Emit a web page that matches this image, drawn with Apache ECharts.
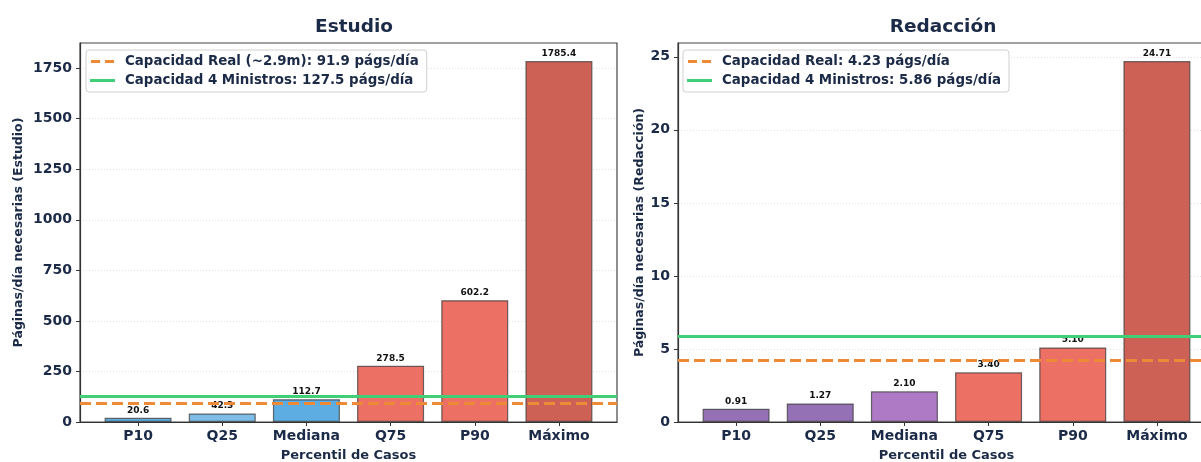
<!DOCTYPE html>
<html>
<head>
<meta charset="utf-8">
<script src="https://cdn.jsdelivr.net/npm/echarts@6/dist/echarts.min.js"></script>
<style>
html,body{margin:0;padding:0;background:#fff;}
#chart{width:1201px;height:462px;}
</style>
</head>
<body>
<div id="chart"></div>
<script>
const categories = ['P10', 'Q25', 'Mediana', 'Q75', 'P90', 'Máximo'];
const estudioValues = [20.6, 42.3, 112.7, 278.5, 602.2, 1785.4];
const redaccionValues = [0.91, 1.27, 2.10, 3.40, 5.10, 24.71];
const estudioColors = ['#5dade2', '#7dbde8', '#5dade2', '#ec7063', '#ec7063', '#cd6155'];
const redaccionColors = ['#9470b4', '#9470b4', '#af7ac5', '#ec7063', '#ec7063', '#cd6155'];
const estudioCapacity = { real: 91.9, ministros: 127.5 };
const redaccionCapacity = { real: 4.23, ministros: 5.86 };
const estudioTicks = [0, 250, 500, 750, 1000, 1250, 1500, 1750];
const redaccionTicks = [0, 5, 10, 15, 20, 25];
const legendEstudio = ['Capacidad Real (~2.9m): 91.9 págs/día', 'Capacidad 4 Ministros: 127.5 págs/día'];
const legendRedaccion = ['Capacidad Real: 4.23 págs/día', 'Capacidad 4 Ministros: 5.86 págs/día'];

const FONT = 'DejaVu Sans';
const TXT = '#1b2a47';
const ORANGE = '#ec8a35';
const GREEN = '#40cf77';
const DASH_ICON = 'path://M0,0 H9 V3 H0 Z M14,0 H23 V3 H14 Z';
const SOLID_ICON = 'path://M0,0 H25 V3 H0 Z';
const xIdx = categories.map((c, i) => i);

function xAxis(gi) {
  return {
    type: 'value', gridIndex: gi, min: -0.69, max: 5.69,
    name: 'Percentil de Casos', nameLocation: 'middle', nameGap: 27,
    nameTextStyle: { fontFamily: FONT, fontWeight: 'bold', fontSize: 13, color: TXT },
    axisLine: { show: true, onZero: false, lineStyle: { color: '#333', width: 1.2 } },
    axisTick: { show: true, customValues: xIdx, length: 4, lineStyle: { color: '#333' } },
    axisLabel: { customValues: xIdx, formatter: v => categories[Math.round(v)], fontFamily: FONT, fontWeight: 'bold', fontSize: 14, color: TXT, margin: 7 },
    splitLine: { show: false }
  };
}
function yAxis(gi, max, ticks, name, gap) {
  return {
    type: 'value', gridIndex: gi, min: 0, max: max,
    name: name, nameLocation: 'middle', nameGap: gap,
    nameTextStyle: { fontFamily: FONT, fontWeight: 'bold', fontSize: 12.5, color: TXT },
    axisLine: { show: true, onZero: false, lineStyle: { color: '#333', width: 1.2 } },
    axisTick: { show: true, customValues: ticks, length: 4, lineStyle: { color: '#333' } },
    axisLabel: { customValues: ticks, formatter: v => String(v), fontFamily: FONT, fontWeight: 'bold', fontSize: 14, color: TXT, margin: 8 },
    splitLine: { show: true, customValues: ticks, lineStyle: { color: '#d9d9d9', type: [1, 2], width: 0.8 } }
  };
}
function bars(gi, values, colors, decimals) {
  return {
    type: 'bar', xAxisIndex: gi, yAxisIndex: gi, barWidth: 67, z: 2,
    data: values.map((v, i) => ({ value: [i, v], itemStyle: { color: colors[i] } })),
    itemStyle: { borderColor: 'rgba(60,60,60,0.75)', borderWidth: 1.2 },
    label: { show: true, position: 'top', distance: 3, fontFamily: FONT, fontWeight: 'bold', fontSize: 9, color: '#111',
      formatter: p => p.value[1].toFixed(decimals) }
  };
}
function capLine(gi, name, value, color, dashed) {
  const ls = { color: color, width: 3, type: dashed ? [11, 5] : 'solid' };
  return {
    type: 'line', name: name, xAxisIndex: gi, yAxisIndex: gi, data: [], symbol: 'none', showSymbol: false, z: 5,
    color: color, lineStyle: ls,
    markLine: { silent: true, symbol: 'none', label: { show: false }, lineStyle: ls, animation: false, data: [{ yAxis: value }] }
  };
}
function legend(names, left, top) {
  return {
    data: [{ name: names[0], icon: DASH_ICON }, { name: names[1], icon: SOLID_ICON }],
    orient: 'vertical', left: left, top: top, itemWidth: 25, itemHeight: 3, itemGap: 6,
    padding: [5, 8, 5, 4], backgroundColor: 'rgba(255,255,255,0.85)', borderColor: '#d0d0d0', borderWidth: 1, borderRadius: 3,
    textStyle: { fontFamily: FONT, fontWeight: 'bold', fontSize: 13.4, color: TXT, padding: [0, 0, 0, 5] }, selectedMode: false
  };
}

const chart = echarts.init(document.getElementById('chart'), null, { renderer: 'canvas' });
chart.setOption({
  animation: false,
  backgroundColor: '#fff',
  title: [
    { text: 'Estudio', left: 349, top: 13, textAlign: 'center', textStyle: { fontFamily: FONT, fontWeight: 'bold', fontSize: 18.5, color: TXT } },
    { text: 'Redacción', left: 938, top: 13, textAlign: 'center', textStyle: { fontFamily: FONT, fontWeight: 'bold', fontSize: 18.5, color: TXT } }
  ],
  grid: [
    { left: 80, top: 43, width: 537, height: 379, outerBoundsMode: 'none', containLabel: false, show: true, borderColor: '#444', borderWidth: 1.2, backgroundColor: 'transparent' },
    { left: 678, top: 43, width: 537, height: 379, outerBoundsMode: 'none', containLabel: false, show: true, borderColor: '#444', borderWidth: 1.2, backgroundColor: 'transparent' }
  ],
  legend: [
    legend(legendEstudio, 86, 50),
    legend(legendRedaccion, 683, 50)
  ],
  xAxis: [xAxis(0), xAxis(1)],
  yAxis: [
    yAxis(0, Math.max(...estudioValues) * 1.05, estudioTicks, 'Páginas/día necesarias (Estudio)', 55),
    yAxis(1, Math.max(...redaccionValues) * 1.05, redaccionTicks, 'Páginas/día necesarias (Redacción)', 27)
  ],
  series: [
    bars(0, estudioValues, estudioColors, 1),
    bars(1, redaccionValues, redaccionColors, 2),
    capLine(0, legendEstudio[0], estudioCapacity.real, ORANGE, true),
    capLine(0, legendEstudio[1], estudioCapacity.ministros, GREEN, false),
    capLine(1, legendRedaccion[0], redaccionCapacity.real, ORANGE, true),
    capLine(1, legendRedaccion[1], redaccionCapacity.ministros, GREEN, false)
  ]
});
</script>
</body>
</html>
